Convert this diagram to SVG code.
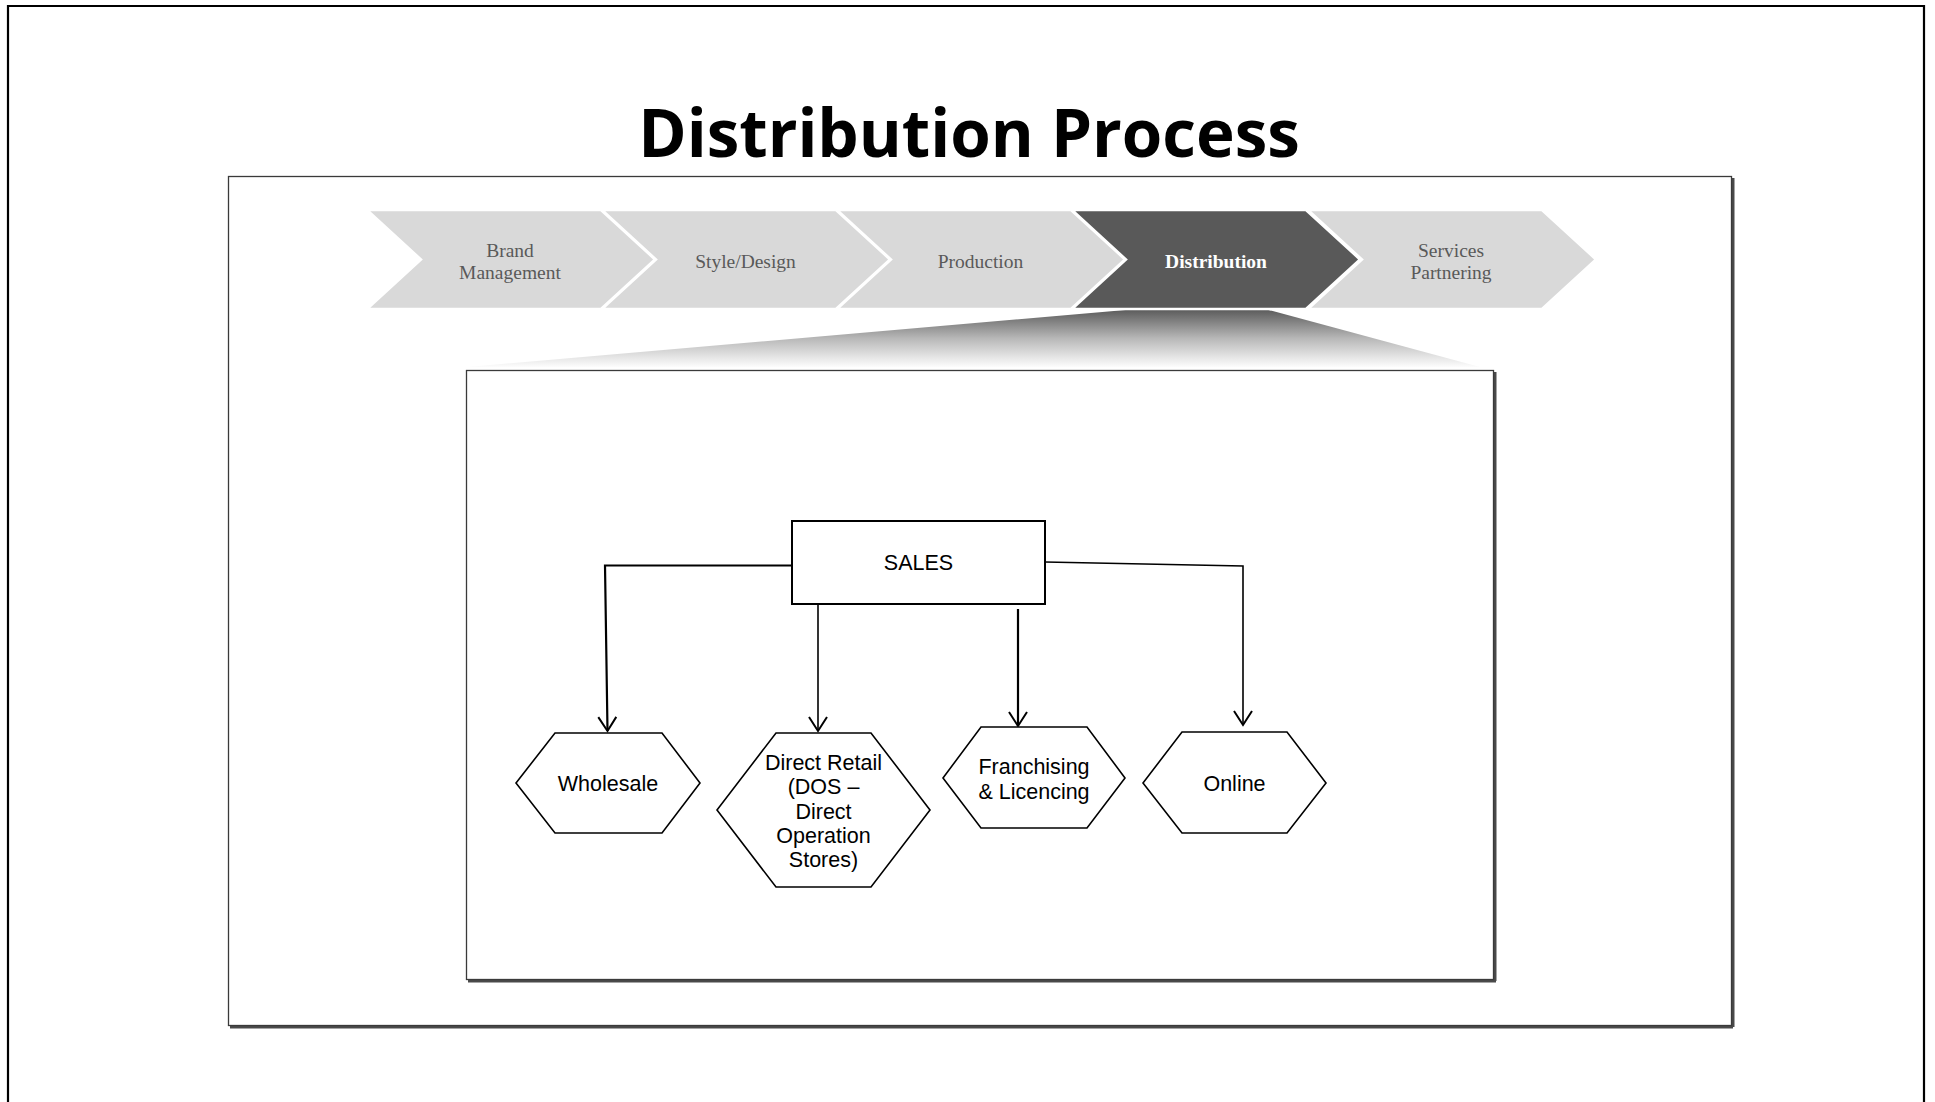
<svg xmlns="http://www.w3.org/2000/svg" width="1935" height="1102" viewBox="0 0 1935 1102">
<defs>
<style>
.chev{fill:#d9d9d9;stroke:#ffffff;stroke-width:2.5;stroke-linejoin:miter}
.chev-on{fill:#595959;stroke:#ffffff;stroke-width:2.5}
.ctext{font-family:"Liberation Serif","Times New Roman",serif;font-size:19.5px;fill:#595959;text-anchor:middle}
.ctext-on{font-family:"Liberation Serif","Times New Roman",serif;font-size:19.5px;font-weight:bold;fill:#ffffff;text-anchor:middle}
.hex{fill:#ffffff;stroke:#000000;stroke-width:1.6;stroke-linejoin:miter}
.box{fill:#ffffff;stroke:#000000;stroke-width:2}
.ntext{font-family:"Liberation Sans",Arial,sans-serif;font-size:21.5px;fill:#000000;text-anchor:middle}
.conn{fill:none;stroke:#000000;stroke-width:1.6}
.conn-b{fill:none;stroke:#000000;stroke-width:2.2}
.frame{fill:none;stroke:#3a3a3a;stroke-width:1.3}
.shadow{fill:none;stroke:#4a4a4a;stroke-width:3}
</style>
<marker id="arrow" markerUnits="userSpaceOnUse" markerWidth="30" markerHeight="30" refX="0" refY="0" orient="auto" overflow="visible">
<path d="M-14,-9 L0,0 L-14,9" fill="none" stroke="#000000" stroke-width="2"/>
</marker>
<linearGradient id="fan" x1="0" y1="309" x2="0" y2="368" gradientUnits="userSpaceOnUse">
<stop offset="0" stop-color="#595959"/>
<stop offset="0.5" stop-color="#b8b8b8"/>
<stop offset="1" stop-color="#ffffff"/>
</linearGradient>
</defs>
<rect x="0" y="0" width="1935" height="1102" fill="#ffffff"/>

<!-- outer frame -->
<path d="M8,1110 L8,6 L1924,6 L1924,1110" fill="none" stroke="#000000" stroke-width="2.2"/>

<!-- title -->
<text x="969" y="157" font-family="'Open Sans','Noto Sans',sans-serif" font-weight="bold" font-size="65.5" text-anchor="middle" fill="#000000">Distribution Process</text>

<!-- middle frame -->
<g id="middle-frame">
<line class="shadow" x1="230" y1="1027" x2="1733" y2="1027"/>
<line class="shadow" x1="1733" y1="178" x2="1733" y2="1027"/>
<rect class="frame" x="228.5" y="176.5" width="1503" height="849"/>
</g>

<!-- zoom fan -->
<polygon points="1137,309 1265,309 1480,367 468,367" fill="url(#fan)"/>

<!-- chevrons -->
<g id="step-brand">
<polygon class="chev" points="367,210 601,210 655,259.5 601,309 367,309 421,259.5"/>
<text class="ctext" x="510" y="256.5">Brand</text>
<text class="ctext" x="510" y="278.5">Management</text>
</g>
<g id="step-style">
<polygon class="chev" points="602,210 836,210 890,259.5 836,309 602,309 656,259.5"/>
<text class="ctext" x="745.5" y="267.5">Style/Design</text>
</g>
<g id="step-production">
<polygon class="chev" points="837,210 1071,210 1125,259.5 1071,309 837,309 891,259.5"/>
<text class="ctext" x="980.5" y="267.5">Production</text>
</g>
<g id="step-services">
<polygon class="chev" points="1308,210 1542,210 1596,259.5 1542,309 1308,309 1362,259.5"/>
<text class="ctext" x="1451" y="256.5">Services</text>
<text class="ctext" x="1451" y="278.5">Partnering</text>
</g>
<g id="step-distribution">
<polygon class="chev-on" points="1072,210 1306,210 1360,259.5 1306,309 1072,309 1126,259.5"/>
<text class="ctext-on" x="1216" y="267.5">Distribution</text>
</g>

<!-- inner box -->
<g id="inner-frame">
<line class="shadow" x1="468" y1="981" x2="1496" y2="981"/>
<line class="shadow" x1="1495" y1="372" x2="1495" y2="981"/>
<rect class="frame" x="466.5" y="370.5" width="1027" height="609"/>
</g>

<!-- connectors -->
<g id="connectors">
<path class="conn-b" d="M792,565.5 L605,565.5 L607.5,731" marker-end="url(#arrow)"/>
<path class="conn" d="M818,604 L818,731" marker-end="url(#arrow)"/>
<path class="conn-b" d="M1018,609 L1018,726" marker-end="url(#arrow)"/>
<path class="conn" d="M1045,562 L1243,566 L1243,725" marker-end="url(#arrow)"/>
</g>

<!-- nodes -->
<g id="sales">
<rect class="box" x="792" y="521" width="253" height="83"/>
<text class="ntext" x="918.5" y="570">SALES</text>
</g>
<g id="wholesale">
<polygon class="hex" points="516,783 555,733 662,733 700,783 662,833 555,833"/>
<text class="ntext" x="608" y="791">Wholesale</text>
</g>
<g id="direct-retail">
<polygon class="hex" points="717,810 776,733 871,733 930,810 871,887 776,887"/>
<text class="ntext" x="823.5" y="769.5">Direct Retail</text>
<text class="ntext" x="823.5" y="794">(DOS –</text>
<text class="ntext" x="823.5" y="818.5">Direct</text>
<text class="ntext" x="823.5" y="843">Operation</text>
<text class="ntext" x="823.5" y="867">Stores)</text>
</g>
<g id="franchising">
<polygon class="hex" points="943,778 981,727 1087,727 1125,778 1087,828 981,828"/>
<text class="ntext" x="1034" y="774">Franchising</text>
<text class="ntext" x="1034" y="799">&amp; Licencing</text>
</g>
<g id="online">
<polygon class="hex" points="1143,783 1182,732 1287,732 1326,783 1287,833 1182,833"/>
<text class="ntext" x="1234.5" y="791">Online</text>
</g>
</svg>
